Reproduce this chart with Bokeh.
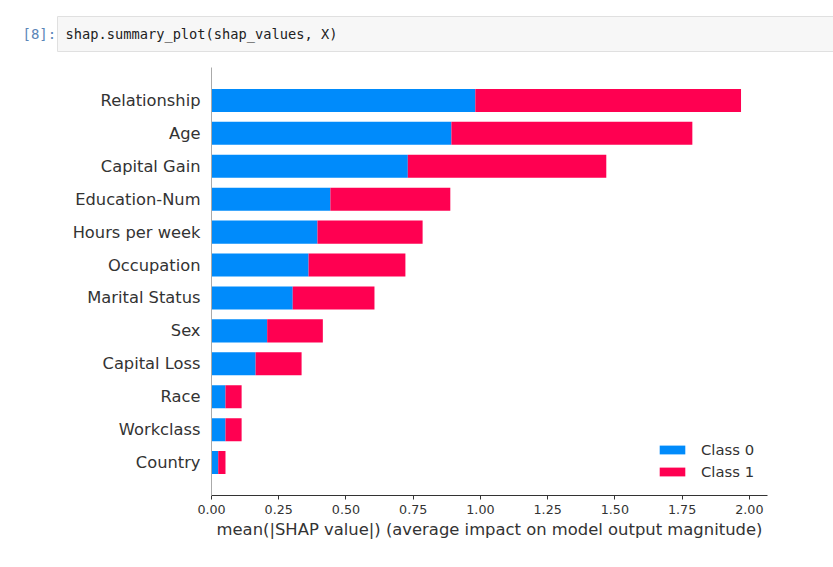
from bokeh.plotting import figure
from bokeh.models import FactorRange, Range1d, FixedTicker, Legend, LegendItem
from bokeh.layouts import column
from bokeh.embed import file_html
from bokeh.resources import INLINE
from bokeh.core.properties import value

# ---- data ----
features = ["Relationship", "Age", "Capital Gain", "Education-Num", "Hours per week",
            "Occupation", "Marital Status", "Sex", "Capital Loss", "Race",
            "Workclass", "Country"]
class0 = [0.981, 0.892, 0.730, 0.442, 0.394, 0.361, 0.302, 0.207, 0.164, 0.052, 0.052, 0.025]
class1 = [0.988, 0.896, 0.738, 0.446, 0.391, 0.360, 0.304, 0.207, 0.171, 0.060, 0.060, 0.027]
series_names = ["Class 0", "Class 1"]
tick_values = [0.0, 0.25, 0.5, 0.75, 1.0, 1.25, 1.5, 1.75, 2.0]
tick_labels = ["0.00", "0.25", "0.50", "0.75", "1.00", "1.25", "1.50", "1.75", "2.00"]
x_label = "mean(|SHAP value|) (average impact on model output magnitude)"
prompt_text = "[8]:"
code_text = "shap.summary_plot(shap_values, X)"

BLUE = "#008bfb"
RED = "#ff0051"
AXIS = "#333333"
FONT = "DejaVu Sans"

totals = [a + b for a, b in zip(class0, class1)]

# ---- notebook cell header ----
hdr = figure(width=833, height=60, x_range=Range1d(0, 833), y_range=Range1d(0, 60),
             toolbar_location=None, output_backend="svg", min_border=0,
             x_axis_location=None, y_axis_location=None)
hdr.frame_align = False
hdr.grid.visible = False
hdr.outline_line_color = None
hdr.quad(left=[57], right=[850], bottom=[9], top=[44],
         fill_color="#f7f7f7", line_color="#e0e0e0", line_width=1)
hdr.text(x=[22], y=[26.5], text=[prompt_text], text_baseline="middle",
         text_font=value("DejaVu Sans Mono"), text_font_size="14px",
         text_color="#5b86b8")
hdr.text(x=[65], y=[26.5], text=[code_text], text_baseline="middle",
         text_font=value("DejaVu Sans Mono"), text_font_size="13.7px",
         text_color="#222222")

# ---- chart ----
p = figure(width=833, height=499,
           y_range=FactorRange(factors=features[::-1], range_padding=0.5,
                               range_padding_units="absolute"),
           x_range=Range1d(0, max(totals) * 1.05),
           toolbar_location=None, output_backend="svg",
           min_border_left=211, min_border_right=66,
           min_border_top=7, min_border_bottom=64)
p.frame_align = False
p.grid.visible = False
p.outline_line_color = None

r0 = p.hbar(y=features, left=0, right=class0, height=0.7,
            fill_color=BLUE, line_color=None)
r1 = p.hbar(y=features, left=class0, right=totals, height=0.7,
            fill_color=RED, line_color=None)

# x axis
xa = p.xaxis[0]
xa.ticker = FixedTicker(ticks=tick_values)
xa.major_label_overrides = {v: l for v, l in zip(tick_values, tick_labels)}
xa.minor_tick_line_color = None
xa.major_tick_out = 4
xa.major_tick_in = 0
xa.major_tick_line_color = AXIS
xa.axis_line_color = AXIS
xa.major_label_text_font = FONT
xa.major_label_text_font_size = "12.7px"
xa.major_label_text_color = AXIS
xa.major_label_standoff = 5
xa.axis_label = x_label
xa.axis_label_text_font = FONT
xa.axis_label_text_font_size = "16.4px"
xa.axis_label_text_font_style = "normal"
xa.axis_label_text_color = AXIS
xa.axis_label_standoff = 3

# y axis
ya = p.yaxis[0]
ya.major_tick_line_color = None
ya.major_tick_out = 0
ya.major_tick_in = 0
ya.minor_tick_line_color = None
ya.axis_line_color = "#aaaaaa"
ya.major_label_text_font = FONT
ya.major_label_text_font_size = "16.3px"
ya.major_label_text_color = AXIS
ya.major_label_standoff = 11

legend = Legend(items=[LegendItem(label=series_names[0], renderers=[r0]),
                       LegendItem(label=series_names[1], renderers=[r1])],
                location=(445, 15), glyph_width=32, glyph_height=11,
                label_standoff=13, spacing=5, padding=0, margin=0,
                border_line_color=None, background_fill_alpha=0,
                label_text_font=FONT, label_text_font_size="14.8px",
                label_text_color=AXIS)
p.add_layout(legend)

layout = column(hdr, p)
open("out.html", "w").write(file_html(layout, INLINE))
